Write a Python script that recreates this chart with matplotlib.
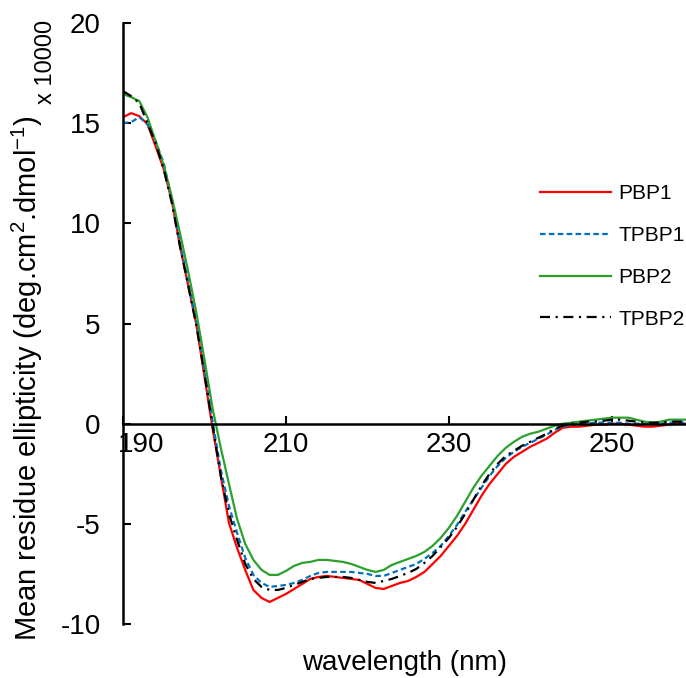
import numpy as np
import matplotlib
matplotlib.use('Agg')
from matplotlib import pyplot as plt
from matplotlib import transforms

plt.rcParams['font.family'] = ['Liberation Sans', 'DejaVu Sans']
plt.rcParams['mathtext.fontset'] = 'custom'
plt.rcParams['mathtext.rm'] = 'Liberation Sans'
plt.rcParams['mathtext.it'] = 'Liberation Sans:italic'
plt.rcParams['mathtext.default'] = 'regular'

# CD spectra, values in units of 10000 deg.cm2.dmol-1
wavelength = np.arange(190, 261)

pbp1 = [15.3, 15.5, 15.35, 14.95, 13.85, 12.7, 11.1, 8.85, 6.9, 4.95,
        2.35, -0.25, -2.6, -4.95, -6.2, -7.3, -8.3, -8.7, -8.9, -8.7,
        -8.5, -8.25, -8.0, -7.75, -7.65, -7.6, -7.65, -7.7, -7.75, -7.8,
        -8.0, -8.2, -8.25, -8.1, -7.95, -7.85, -7.65, -7.4, -7.0, -6.6,
        -6.1, -5.6, -5.0, -4.3, -3.6, -3.0, -2.5, -2.0, -1.65, -1.4,
        -1.15, -0.95, -0.75, -0.45, -0.2, -0.15, -0.15, -0.1, -0.05, -0.05,
        0.0, 0.0, -0.05, -0.1, -0.15, -0.15, -0.1, -0.05, 0.0, 0.0, 0.0]

tpbp1 = [15.0, 15.05, 15.3, 14.95, 14.1, 13.0, 11.2, 9.0, 7.1, 5.1,
         2.7, 0.1, -2.3, -4.1, -5.45, -6.7, -7.55, -7.95, -8.15, -8.1,
         -8.05, -7.95, -7.8, -7.6, -7.45, -7.4, -7.4, -7.4, -7.4, -7.45,
         -7.5, -7.6, -7.6, -7.45, -7.3, -7.15, -7.0, -6.75, -6.45, -6.1,
         -5.6, -5.05, -4.4, -3.8, -3.2, -2.6, -2.1, -1.7, -1.4, -1.15,
         -0.95, -0.75, -0.55, -0.3, -0.15, -0.05, 0.0, 0.0, 0.05, 0.05,
         0.05, 0.05, 0.0, 0.0, 0.0, 0.0, 0.0, 0.05, 0.05, 0.05, 0.05]

pbp2 = [16.45, 16.3, 16.1, 15.3, 14.1, 12.9, 11.3, 9.5, 7.6, 5.55,
        3.2, 0.75, -1.2, -3.0, -4.75, -6.0, -6.8, -7.3, -7.55, -7.55,
        -7.35, -7.1, -6.95, -6.9, -6.8, -6.8, -6.85, -6.9, -7.0, -7.15,
        -7.3, -7.4, -7.3, -7.05, -6.9, -6.75, -6.6, -6.4, -6.1, -5.7,
        -5.2, -4.6, -3.9, -3.2, -2.6, -2.1, -1.6, -1.2, -0.9, -0.65,
        -0.5, -0.4, -0.25, -0.1, 0.0, 0.05, 0.1, 0.15, 0.2, 0.25,
        0.3, 0.3, 0.3, 0.2, 0.1, 0.05, 0.1, 0.2, 0.2, 0.2, 0.2]

tpbp2 = [16.6, 16.35, 16.0, 15.0, 14.0, 12.7, 11.0, 8.85, 6.9, 4.9,
         2.5, -0.1, -2.6, -4.5, -5.8, -7.0, -7.75, -8.15, -8.3, -8.3,
         -8.2, -8.05, -7.9, -7.75, -7.7, -7.65, -7.65, -7.65, -7.7, -7.8,
         -7.9, -7.95, -7.85, -7.75, -7.6, -7.45, -7.25, -6.95, -6.6, -6.15,
         -5.7, -5.15, -4.5, -3.8, -3.1, -2.5, -2.0, -1.6, -1.35, -1.1,
         -0.9, -0.7, -0.5, -0.25, -0.1, 0.0, 0.05, 0.1, 0.1, 0.15,
         0.2, 0.2, 0.15, 0.1, 0.05, 0.05, 0.05, 0.1, 0.1, 0.1, 0.1]

series_names = ['PBP1', 'TPBP1', 'PBP2', 'TPBP2']
x_ticks = [190, 210, 230, 250]
y_ticks = [-10, -5, 0, 5, 10, 15, 20]

fig = plt.figure(figsize=(6.86, 6.78), dpi=100)
ax = fig.add_axes([123/686, 1 - 624/678, 1 - 123/686, 601/678])

ax.plot(wavelength, pbp1, color='#ff0000', lw=1.6, label=series_names[0])
ax.plot(wavelength, tpbp1, color='#0070c0', lw=1.6, ls=(0, (2.5, 1.5)), label=series_names[1])
ax.plot(wavelength, pbp2, color='#2ca02c', lw=1.6, label=series_names[2])
ax.plot(wavelength, tpbp2, color='black', lw=1.6, ls=(0, (4.5, 2.5, 1.0, 2.5)), label=series_names[3])

ax.set_xlim(190, 259.1)
ax.set_ylim(-10, 20)
ax.spines['top'].set_visible(False)
ax.spines['right'].set_visible(False)
ax.spines['bottom'].set_position(('data', 0))
ax.spines['bottom'].set_linewidth(1.8)
ax.spines['left'].set_linewidth(1.8)

ax.set_xticks(x_ticks)
ax.set_xticklabels([str(t) for t in x_ticks])
ax.set_yticks(y_ticks)
ax.set_yticklabels([str(t) for t in y_ticks])
ax.tick_params(axis='x', direction='in', length=6, width=1.5, labelsize=20, pad=6)
ax.tick_params(axis='y', direction='in', length=6, width=1.5, labelsize=20, pad=16)

# excel nudges the first category label off the y axis
first = ax.get_xticklabels()[0]
first.set_transform(first.get_transform() + transforms.ScaledTranslation(0.18, 0, fig.dpi_scale_trans))

fig.text(27/686, 1 - 378/678, 'Mean residue ellipticity (deg.cm$^2$.dmol$^{-1}$)',
         rotation=90, ha='center', va='center', fontsize=21)
fig.text(46/686, 1 - 62/678, 'x 10000', rotation=90, ha='center', va='center', fontsize=17)
fig.text(405/686, 1 - 663/678, 'wavelength (nm)', ha='center', va='center', fontsize=20)

ax.legend(loc='upper left', bbox_to_anchor=((540 - 123)/563, (624 - 184)/601),
          frameon=False, fontsize=15, handlelength=3.4, handletextpad=0.35,
          labelspacing=1.1, borderpad=0, borderaxespad=0)

fig.savefig('out.png', dpi=100)
